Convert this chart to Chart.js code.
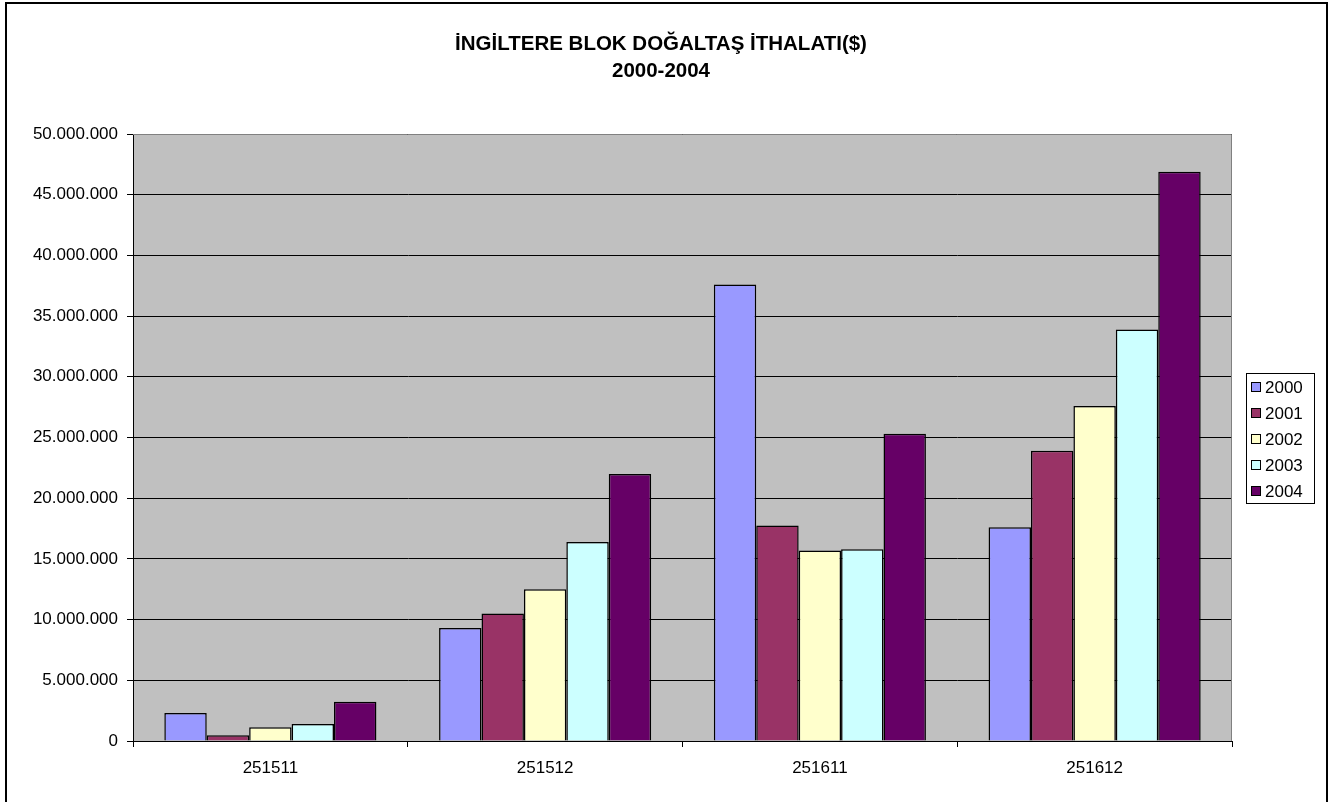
<!DOCTYPE html>
<html>
<head>
<meta charset="utf-8">
<script src="https://cdn.jsdelivr.net/npm/chart.js@4/dist/chart.umd.min.js"></script>
<style>
  html, body { margin: 0; padding: 0; background: #fff; }
  #wrap { width: 1341px; height: 802px; }
</style>
</head>
<body>
<div id="wrap"><canvas id="chart" width="1341" height="802"></canvas></div>
<script>
const TITLE_LINES = ['İNGİLTERE BLOK DOĞALTAŞ İTHALATI($)', '2000-2004'];
const CATEGORIES = ['251511', '251512', '251611', '251612'];
const YEARS = ['2000', '2001', '2002', '2003', '2004'];
const COLORS = ['#9999ff', '#993366', '#ffffcc', '#ccffff', '#660066'];

const v2000 = [2300000, 9300000, 37600000, 17600000];
const v2001 = [470000, 10500000, 17750000, 23900000];
const v2002 = [1130000, 12500000, 15700000, 27600000];
const v2003 = [1410000, 16400000, 15800000, 33900000];
const v2004 = [3230000, 22000000, 25300000, 46900000];
const SERIES = [v2000, v2001, v2002, v2003, v2004];

const Y_MAX = 50000000;
const Y_STEP = 5000000;

const FONT = "'Liberation Sans', Arial, sans-serif";

function dotted(n) {
  return String(Math.round(n)).replace(/\B(?=(\d{3})+(?!\d))/g, '.');
}

// white page, outer frame, grey plot background
const backdrop = {
  id: 'backdrop',
  beforeDraw(chart) {
    const { ctx, chartArea: a } = chart;
    ctx.save();
    ctx.fillStyle = '#fff';
    ctx.fillRect(0, 0, chart.width, chart.height);
    ctx.strokeStyle = '#000';
    ctx.lineWidth = 2;
    ctx.strokeRect(6, 3, 1321, 820);
    ctx.fillStyle = '#c0c0c0';
    ctx.fillRect(a.left, a.top, a.right - a.left, a.bottom - a.top);
    ctx.restore();
  },
  beforeDatasetsDraw(chart) {
    const { ctx, chartArea: a } = chart;
    ctx.save();
    ctx.strokeStyle = '#808080';
    ctx.lineWidth = 1;
    ctx.beginPath();
    ctx.moveTo(a.left, a.top + 0.5);
    ctx.lineTo(a.right - 0.5, a.top + 0.5);
    ctx.lineTo(a.right - 0.5, a.bottom);
    ctx.stroke();
    ctx.restore();
  },
};

// title and boxed legend, Excel style
const decorations = {
  id: 'decorations',
  afterDraw(chart) {
    const { ctx } = chart;
    ctx.save();
    ctx.fillStyle = '#000';
    ctx.textAlign = 'center';
    ctx.textBaseline = 'middle';
    ctx.font = `bold 20.5px ${FONT}`;
    ctx.fillText(TITLE_LINES[0], 661, 44);
    ctx.fillText(TITLE_LINES[1], 661, 71);

    ctx.fillStyle = '#fff';
    ctx.fillRect(1246, 373, 68, 130);
    ctx.strokeStyle = '#000';
    ctx.lineWidth = 1;
    ctx.strokeRect(1246.5, 373.5, 68, 130);

    ctx.textAlign = 'left';
    ctx.font = `17px ${FONT}`;
    chart.data.datasets.forEach((ds, i) => {
      const y = 387 + i * 26;
      ctx.fillStyle = ds.backgroundColor;
      ctx.fillRect(1251, y - 5, 10, 10);
      ctx.strokeStyle = '#000';
      ctx.strokeRect(1251.5, y - 4.5, 9, 9);
      ctx.fillStyle = '#000';
      ctx.fillText(ds.label, 1265, y + 1);
    });
    ctx.restore();
  },
};

new Chart(document.getElementById('chart'), {
  type: 'bar',
  plugins: [backdrop, decorations],
  data: {
    labels: CATEGORIES,
    datasets: YEARS.map((year, i) => ({
      label: year,
      data: SERIES[i],
      backgroundColor: COLORS[i],
      borderColor: '#000',
      borderWidth: 1.5,
      categoryPercentage: 0.772,
      barPercentage: 1.0,
    })),
  },
  options: {
    responsive: false,
    animation: false,
    layout: { padding: { left: 8, top: 134, right: 109, bottom: 21 } },
    plugins: {
      legend: { display: false },
      title: { display: false },
      tooltip: { enabled: false },
    },
    scales: {
      x: {
        afterFit: s => { s.height = 40; },
        grid: {
          offset: true,
          drawOnChartArea: false,
          drawTicks: true,
          tickLength: 6,
          color: '#000',
        },
        border: { display: true, color: '#000', width: 1 },
        ticks: { color: '#000', font: { family: FONT, size: 17 }, padding: 11 },
      },
      y: {
        min: 0,
        max: Y_MAX,
        afterFit: s => { s.width = 125; },
        grid: { color: '#000', lineWidth: 1, tickLength: 6, drawTicks: true },
        border: { display: true, color: '#000', width: 1 },
        ticks: {
          stepSize: Y_STEP,
          color: '#000',
          padding: 9,
          font: { family: FONT, size: 17 },
          callback: v => dotted(v),
        },
      },
    },
  },
});
</script>
</body>
</html>
